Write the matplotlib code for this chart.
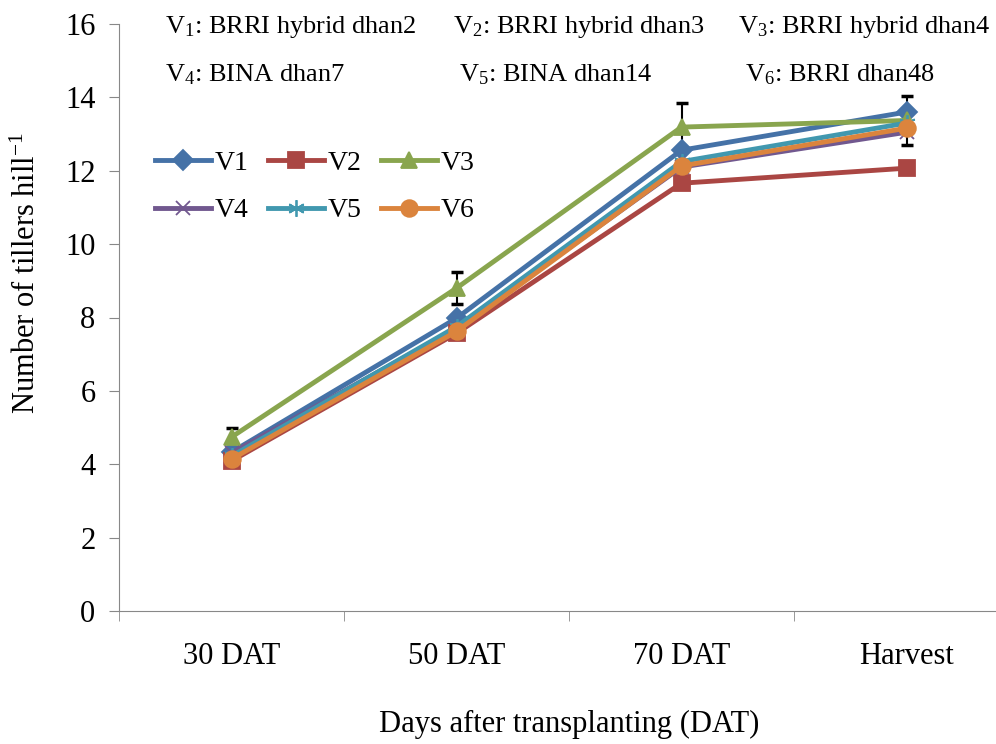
import numpy as np
import matplotlib.pyplot as plt
from matplotlib.ticker import FixedLocator

plt.rcParams['font.family'] = ['Liberation Serif', 'DejaVu Serif']
plt.rcParams['mathtext.fontset'] = 'custom'
plt.rcParams['mathtext.rm'] = 'Liberation Serif'
plt.rcParams['mathtext.it'] = 'Liberation Serif:italic'
plt.rcParams['mathtext.default'] = 'regular'

# data
stages = ["30 DAT", "50 DAT", "70 DAT", "Harvest"]
v1 = [4.33, 7.98, 12.56, 13.60]
v2 = [4.09, 7.57, 11.66, 12.07]
v3 = [4.74, 8.80, 13.19, 13.37]
v4 = [4.30, 7.70, 12.10, 13.05]
v5 = [4.22, 7.75, 12.25, 13.30]
v6 = [4.14, 7.62, 12.13, 13.16]
v3_err = [0.26, 0.43, 0.65, 0.67]

varieties = ["V$_1$: BRRI hybrid dhan2", "V$_2$: BRRI hybrid dhan3", "V$_3$: BRRI hybrid dhan4",
             "V$_4$: BINA dhan7", "V$_5$: BINA dhan14", "V$_6$: BRRI dhan48"]

fig = plt.figure(figsize=(9.96, 7.44), dpi=100)
ax = fig.add_axes([119 / 996, 133 / 744, 900 / 996, 587 / 744])
x = np.arange(len(stages))

styles = [
    ("V1", v1, "#4572A7", "D", 10),
    ("V2", v2, "#AA4643", "s", 11),
    ("V3", v3, "#89A54E", "^", 11),
    ("V4", v4, "#71588F", "x", 10),
    ("V5", v5, "#4198AF", (6, 2, 0), 12),
    ("V6", v6, "#DB843D", "o", 12),
]
handles = {}
for name, ys, col, mk, ms in styles:
    ln, = ax.plot(x, ys, color=col, lw=3.5, marker=mk, ms=ms, mew=1.3, label=name)
    handles[name] = ln
    if name == "V3":
        ax.errorbar(x, ys, yerr=v3_err, fmt="none", ecolor="black", elinewidth=1.5,
                    capsize=4.5, capthick=2.5, zorder=1)

ax.set_xlim(-0.5, 3.5)
ax.set_ylim(0, 16)
ax.set_yticks(range(0, 17, 2))
ax.set_xticks(x)
ax.set_xticklabels(stages)
ax.xaxis.set_minor_locator(FixedLocator([-0.5, 0.5, 1.5, 2.5, 3.5]))
ax.tick_params(axis="x", which="major", length=0, pad=22, labelsize=22)
ax.tick_params(axis="x", which="minor", length=7, color="#888888")
ax.tick_params(axis="y", length=7, color="#888888", labelsize=22, pad=10)
for s in ["top", "right"]:
    ax.spines[s].set_visible(False)
for s in ["left", "bottom"]:
    ax.spines[s].set_color("#888888")

ax.set_xlabel("Days after transplanting (DAT)", fontsize=22, labelpad=28)
ax.set_ylabel("Number of tillers hill$^{-1}$", fontsize=22)
ax.yaxis.set_label_coords(-0.086, 0.575)

# legend filled row by row like the original
leg_order = ["V1", "V4", "V2", "V5", "V3", "V6"]
ax.legend([handles[n] for n in leg_order], leg_order, ncol=3, loc="upper left",
          bbox_to_anchor=(0.04, 0.785), frameon=False, fontsize=20,
          handlelength=2.0, columnspacing=0.7, handletextpad=0.15,
          labelspacing=0.8, borderaxespad=0, borderpad=0)

for i, txt in enumerate(varieties):
    col = i % 3
    row = i // 3
    xp = [[165, 453, 738], [165, 459, 745]][row][col]
    yp = [27, 75][row]
    fig.text(xp / 996, 1 - yp / 744, txt, fontsize=19, va="center", ha="left")

fig.savefig("out.png", dpi=100)
